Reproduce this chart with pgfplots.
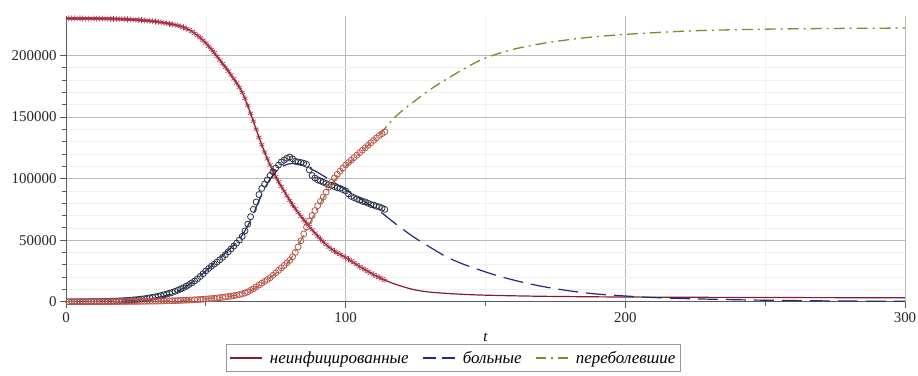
\documentclass[border=0pt]{standalone}
\usepackage{fontspec}
\setmainfont{Liberation Serif}
\usepackage{pgfplots}
\usepackage{pgfplotstable}
\pgfplotsset{compat=1.18}

\definecolor{uninf}{RGB}{139,26,46}
\definecolor{uninfmark}{RGB}{170,45,65}
\definecolor{sick}{RGB}{31,42,128}
\definecolor{sickmark}{RGB}{40,48,62}
\definecolor{recov}{RGB}{112,146,45}
\definecolor{recovmark}{RGB}{192,82,80}
\definecolor{axisgray}{RGB}{90,90,90}

% observed counts, one row per day
\pgfplotstableread{
t S
1 230000
2 230000
3 229990
4 229980
5 229970
6 229960
7 229950
8 229940
9 229920
10 229900
11 229880
12 229850
13 229820
14 229790
15 229750
16 229710
17 229660
18 229600
19 229540
20 229470
21 229390
22 229300
23 229200
24 229080
25 228950
26 228800
27 228630
28 228440
29 228220
30 227980
31 227800
32 227500
33 227200
34 226850
35 226500
36 226100
37 225700
38 225250
39 224800
40 224300
41 223600
42 222800
43 221900
44 220800
45 219500
46 218000
47 216300
48 214400
49 212300
50 210000
51 207500
52 204900
53 202200
54 199300
55 196300
56 193300
57 190300
58 187200
59 184100
60 181000
61 177600
62 174000
63 170000
64 165200
65 159500
66 153000
67 146500
68 140000
69 133500
70 127500
71 121500
72 116000
73 111000
74 106000
75 101500
76 97500
77 93500
78 89800
79 86000
80 82300
81 78800
82 75500
83 72400
84 69400
85 66500
86 63700
87 61000
88 58300
89 55700
90 53200
91 50800
92 48500
93 46400
94 44300
95 42500
96 41000
97 39700
98 38400
99 37100
100 35900
101 34500
102 33100
103 31700
104 30200
105 28500
106 27200
107 25900
108 24600
109 23300
110 22000
111 20800
112 19700
113 18600
114 17500
}\dataS

\pgfplotstableread{
t I
1 10
2 15
3 20
4 30
5 40
6 55
7 70
8 90
9 110
10 140
11 170
12 210
13 250
14 300
15 360
16 430
17 510
18 600
19 700
20 820
21 950
22 1100
23 1250
24 1450
25 1650
26 1900
27 2150
28 2450
29 2800
30 3200
31 3600
32 4000
33 4500
34 5000
35 5600
36 6200
37 6900
38 7600
39 8400
40 9300
41 10300
42 11400
43 12600
44 13900
45 15300
46 16800
47 18600
48 20500
49 22700
50 25000
51 27000
52 28800
53 30500
54 32200
55 34000
56 36000
57 38200
58 40500
59 42800
60 45200
61 47500
62 50000
63 53000
64 57500
65 63000
66 69000
67 75000
68 81000
69 87000
70 92000
71 95500
72 99000
73 102500
74 105500
75 108500
76 111000
77 113500
78 115000
79 116500
80 117500
81 116000
82 114000
83 113500
84 113000
85 112500
86 111500
87 107000
88 102500
89 100500
90 99000
91 98000
92 97000
93 96000
94 95000
95 94500
96 93500
97 92500
98 92000
99 91000
100 90000
101 87500
102 85500
103 84500
104 83500
105 82500
106 81500
107 81000
108 80000
109 79000
110 78500
111 77500
112 77000
113 76000
114 75000
}\dataI

\pgfplotstableread{
t R
1 0
2 0
3 0
4 0
5 5
6 5
7 10
8 10
9 15
10 20
11 25
12 30
13 40
14 50
15 60
16 70
17 80
18 95
19 110
20 125
21 140
22 160
23 180
24 200
25 225
26 250
27 280
28 310
29 345
30 380
31 420
32 460
33 500
34 550
35 600
36 660
37 720
38 790
39 860
40 940
41 1020
42 1110
43 1200
44 1300
45 1420
46 1550
47 1700
48 1850
49 2000
50 2200
51 2350
52 2550
53 2800
54 3050
55 3300
56 3600
57 3900
58 4200
59 4550
60 4900
61 5300
62 5800
63 6400
64 7100
65 8000
66 9200
67 10500
68 12000
69 13500
70 15000
71 16500
72 18000
73 19500
74 21500
75 23500
76 25500
77 27500
78 29500
79 31500
80 33500
81 36500
82 40000
83 44500
84 49500
85 55000
86 60500
87 65500
88 70000
89 74000
90 78000
91 81500
92 85000
93 89000
94 93000
95 97000
96 100500
97 103500
98 106000
99 108500
100 111000
101 113000
102 115000
103 117000
104 119000
105 121000
106 123000
107 125000
108 127000
109 129000
110 131000
111 133000
112 135000
113 136500
114 138000
}\dataR

\begin{document}
\begin{tikzpicture}
\path[use as bounding box] (-66bp,-74.3bp) rectangle (852bp,301.7bp);
\begin{axis}[
  at={(0,0)}, anchor=south west,
  scale only axis,
  width=839bp, height=285.7bp,
  xmin=0, xmax=300, ymin=0, ymax=232000,
  axis lines*=left,
  axis line style={axisgray, line width=0.9pt},
  xtick={0,100,200,300},
  minor xtick={50,150,250},
  ytick={0,50000,100000,150000,200000},
  minor y tick num=4,
  tick align=outside,
  major tick length=6bp,
  minor tick length=4bp,
  tick style={axisgray, line width=0.7pt},
  grid=both,
  major grid style={gray!55, line width=0.6pt},
  minor grid style={gray!12, line width=0.6pt},
  scaled y ticks=false,
  /pgf/number format/assume math mode=true,
  yticklabel style={/pgf/number format/fixed, /pgf/number format/1000 sep={}},
  ticklabel style={font=\fontsize{15}{18}\selectfont, text=black!85},
  xticklabel style={yshift=-1bp},
  xlabel={\textit{t}},
  xlabel style={font=\fontsize{15}{18}\selectfont, yshift=-4bp},
  legend columns=3,
  legend style={
    at={(0.462,-0.197)}, anchor=center,
    draw=gray!80, line width=0.8pt, fill=white,
    font=\itshape\fontsize{17}{20}\selectfont,
    inner xsep=3bp, inner ysep=4.5bp,
    /tikz/every odd column/.append style={column sep=5bp},
    /tikz/every even column/.append style={column sep=12bp},
  },
  legend image code/.code={\draw[#1] (0bp,0bp) -- (32bp,0bp);},
]

% model curves
\addplot[uninf, line width=1.2pt, smooth] coordinates {
(0,230000) (10,229900) (20,229470) (30,227980) (35,226500) (40,224300)
(45,219500) (50,210000) (55,196300) (60,181000) (63,170000) (66,153000)
(69,133500) (72,116000) (75,101500) (78,89800) (81,78800) (84,69400)
(87,61000) (90,53200) (93,46400) (96,41000) (100,35900) (105,28500)
(110,22000) (114,17500) (118,14000) (124,10000) (130,7800) (140,6200)
(150,5300) (170,4400) (200,3800) (250,3400) (300,3200)};
\addlegendentry{неинфицированные}

\addplot[sick, line width=1.2pt, dash pattern=on 20bp off 8bp, smooth,
  legend image post style={dash pattern=on 13bp off 6bp}] coordinates {
(0,0) (10,100) (20,600) (25,1200) (30,2300) (35,4500) (40,8500) (45,15500)
(50,25000) (55,35500) (60,46000) (63,54000) (66,66000) (69,82000) (72,96000)
(75,105500) (78,110500) (80,112000) (83,112000) (86,109500) (90,105000)
(95,98000) (100,91000) (105,84000) (110,76500) (113,72000) (118,63000)
(124,53000) (130,44500) (136,36500) (142,30500) (148,25700) (154,21300)
(160,17600) (166,14400) (172,11700) (178,9500) (184,7600) (190,6200)
(196,5200) (208,3600) (220,2600) (235,1800) (250,1200) (275,600) (300,300)};
\addlegendentry{больные}

\addplot[recov, line width=1.3pt, dash pattern=on 11bp off 5bp on 2bp off 5bp, smooth,
  legend image post style={dash pattern=on 10bp off 5bp on 2bp off 5bp}] coordinates {
(0,0) (20,100) (30,400) (40,950) (50,2300) (55,3400) (60,5000) (65,8000)
(70,14500) (75,23000) (80,33500) (85,54000) (90,76000) (95,95000)
(100,109500) (105,120500) (110,131000) (113,138000) (117,148500)
(121,156500) (125,163500) (131,173500) (137,182000) (143,190000)
(149,197000) (155,201800) (161,205500) (167,208300) (173,210700)
(185,214200) (197,216600) (209,218300) (227,220200) (250,221300)
(275,221900) (300,222200)};
\addlegendentry{переболевшие}

% observed counts
\addplot[forget plot, only marks, mark=asterisk, mark size=3bp,
  mark options={uninfmark, line width=0.6pt}] table[x=t, y=S] {\dataS};
\addplot[forget plot, only marks, mark=o, mark size=3bp,
  mark options={sickmark, line width=0.8pt}] table[x=t, y=I] {\dataI};
\addplot[forget plot, only marks, mark=o, mark size=3bp,
  mark options={recovmark, line width=0.8pt}] table[x=t, y=R] {\dataR};

\end{axis}
\end{tikzpicture}
\end{document}
